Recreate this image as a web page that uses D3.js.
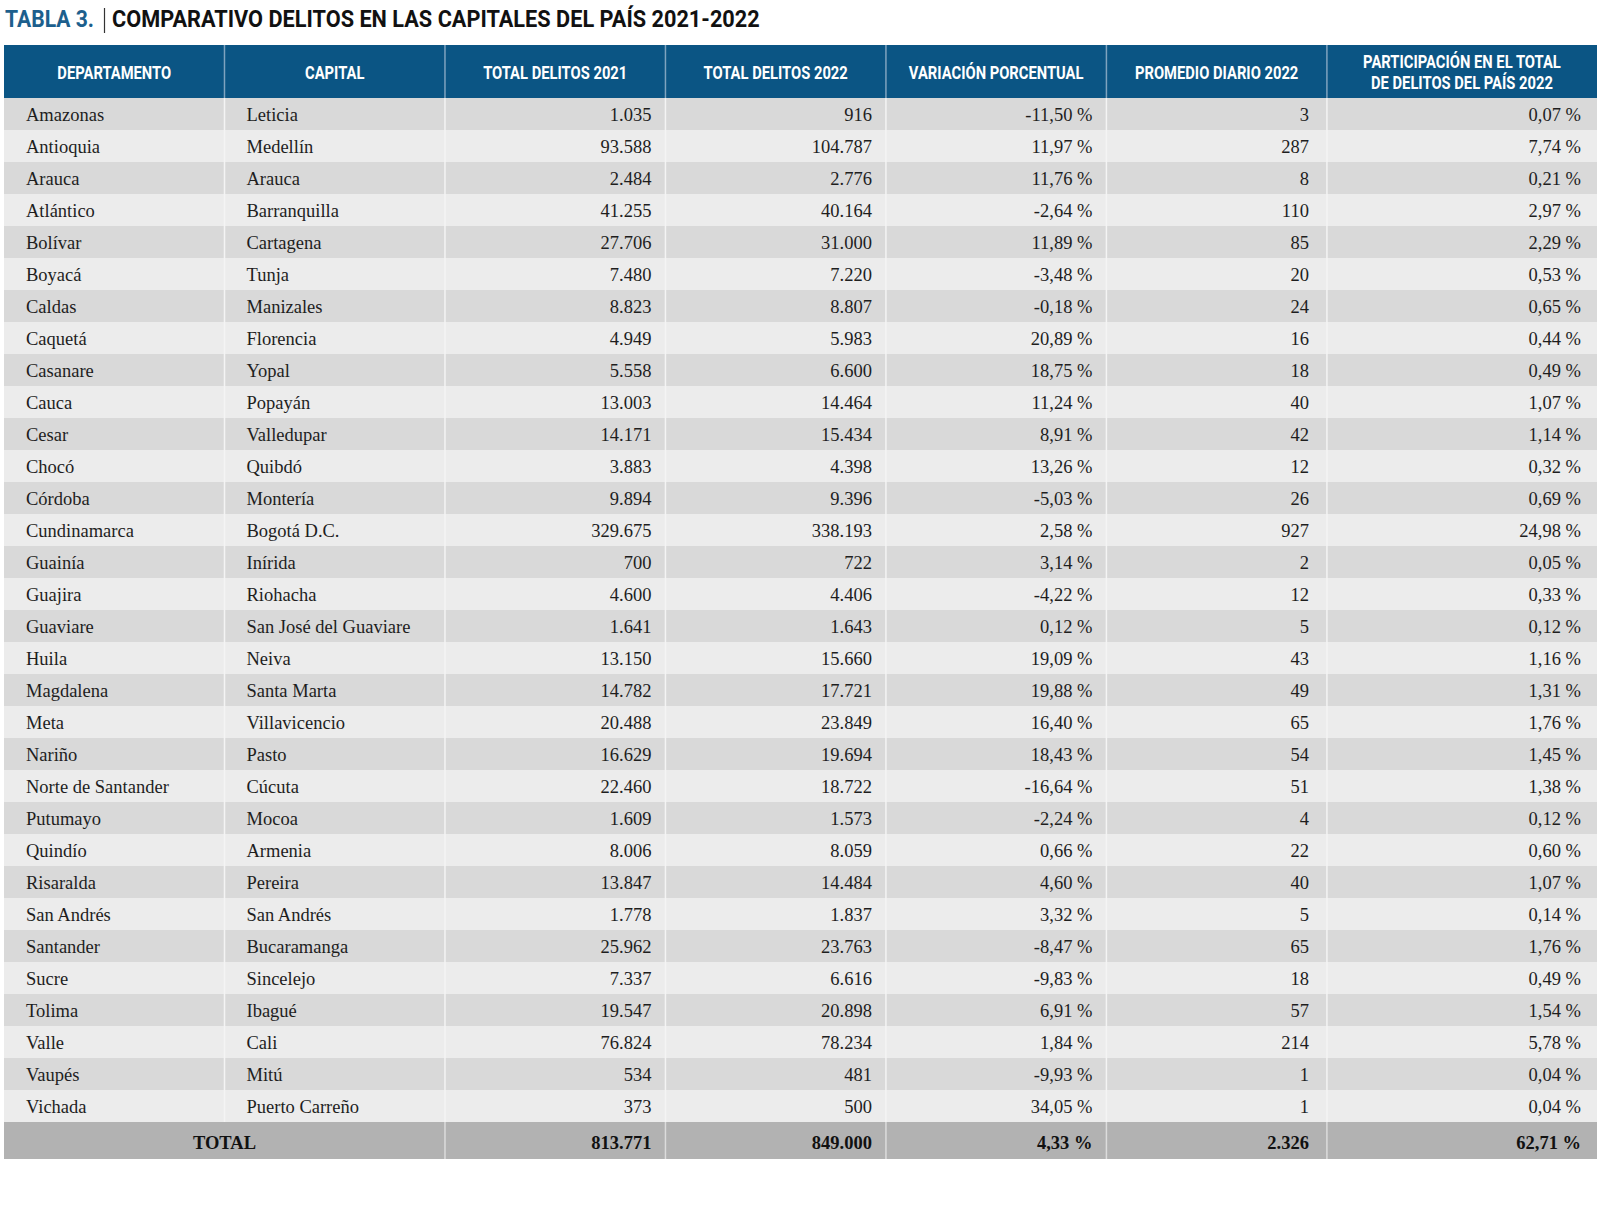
<!DOCTYPE html>
<html>
<head>
<meta charset="utf-8">
<script src="https://cdn.jsdelivr.net/npm/d3@7"></script>
<style>
  html, body { margin: 0; padding: 0; background: #ffffff; }
  svg { display: block; }
</style>
</head>
<body>
<svg id="chart" width="1600" height="1215"></svg>
<script>
// ---------------- DATA ----------------
const titleLabel = "TABLA 3.";
const titleText = "COMPARATIVO DELITOS EN LAS CAPITALES DEL PAÍS 2021-2022";
const headers = [
  ["DEPARTAMENTO"],
  ["CAPITAL"],
  ["TOTAL DELITOS 2021"],
  ["TOTAL DELITOS 2022"],
  ["VARIACIÓN PORCENTUAL"],
  ["PROMEDIO DIARIO 2022"],
  ["PARTICIPACIÓN EN EL TOTAL", "DE DELITOS DEL PAÍS 2022"]
];
const departamentos = ["Amazonas","Antioquia","Arauca","Atlántico","Bolívar","Boyacá","Caldas","Caquetá","Casanare","Cauca","Cesar","Chocó","Córdoba","Cundinamarca","Guainía","Guajira","Guaviare","Huila","Magdalena","Meta","Nariño","Norte de Santander","Putumayo","Quindío","Risaralda","San Andrés","Santander","Sucre","Tolima","Valle","Vaupés","Vichada"];
const capitales = ["Leticia","Medellín","Arauca","Barranquilla","Cartagena","Tunja","Manizales","Florencia","Yopal","Popayán","Valledupar","Quibdó","Montería","Bogotá D.C.","Inírida","Riohacha","San José del Guaviare","Neiva","Santa Marta","Villavicencio","Pasto","Cúcuta","Mocoa","Armenia","Pereira","San Andrés","Bucaramanga","Sincelejo","Ibagué","Cali","Mitú","Puerto Carreño"];
const delitos2021 = [1035,93588,2484,41255,27706,7480,8823,4949,5558,13003,14171,3883,9894,329675,700,4600,1641,13150,14782,20488,16629,22460,1609,8006,13847,1778,25962,7337,19547,76824,534,373];
const delitos2022 = [916,104787,2776,40164,31000,7220,8807,5983,6600,14464,15434,4398,9396,338193,722,4406,1643,15660,17721,23849,19694,18722,1573,8059,14484,1837,23763,6616,20898,78234,481,500];
const variacion = [-11.50,11.97,11.76,-2.64,11.89,-3.48,-0.18,20.89,18.75,11.24,8.91,13.26,-5.03,2.58,3.14,-4.22,0.12,19.09,19.88,16.40,18.43,-16.64,-2.24,0.66,4.60,3.32,-8.47,-9.83,6.91,1.84,-9.93,34.05];
const promedioDiario = [3,287,8,110,85,20,24,16,18,40,42,12,26,927,2,12,5,43,49,65,54,51,4,22,40,5,65,18,57,214,1,1];
const participacion = [0.07,7.74,0.21,2.97,2.29,0.53,0.65,0.44,0.49,1.07,1.14,0.32,0.69,24.98,0.05,0.33,0.12,1.16,1.31,1.76,1.45,1.38,0.12,0.60,1.07,0.14,1.76,0.49,1.54,5.78,0.04,0.04];
const totalLabel = "TOTAL";
const totals = { d2021: 813771, d2022: 849000, variacion: 4.33, promedio: 2326, participacion: 62.71 };

// ---------------- LAYOUT ----------------
const locale = d3.formatLocale({ decimal: ",", thousands: ".", grouping: [3], currency: ["$", ""], minus: "-" });
const fmtInt = locale.format(",d");
const fmtPct = v => locale.format(",.2f")(v) + " %";

const colWeights = [1, 1, 1, 1, 1, 1, 1.225];
const cum = [0];
colWeights.forEach(w => cum.push(cum[cum.length - 1] + w));
const x = d3.scaleLinear().domain([0, cum[cum.length - 1]]).range([4, 1597]);
const colX0 = i => x(cum[i]);
const colX1 = i => x(cum[i + 1]);

const nRows = departamentos.length;
const headerTop = 45, headerBottom = 98;
const y = d3.scaleBand().domain(d3.range(nRows)).range([headerBottom, headerBottom + 32 * nRows]).paddingInner(0);
const totalTop = headerBottom + 32 * nRows, totalBottom = totalTop + 37;

const svg = d3.select("#chart");
const SANS = "Roboto, 'Liberation Sans', sans-serif";
const SERIF = "'Liberation Serif', 'DejaVu Serif', serif";

function condense(sel, factor) {
  sel.each(function () {
    const t = d3.select(this);
    const ax = +t.attr("x"), ay = +t.attr("y");
    t.attr("transform", `translate(${ax},${ay}) scale(${factor},1) translate(${-ax},${-ay})`);
  });
}

// ---------------- TITLE ----------------
const tA = svg.append("text").attr("x", 5).attr("y", 27)
  .attr("font-family", SANS).attr("font-weight", 700).attr("font-size", 23)
  .attr("fill", "#1d5f8d").text(titleLabel);
const wA = tA.node().getComputedTextLength();
condense(tA, 89 / wA);
svg.append("line").attr("x1", 104.5).attr("x2", 104.5).attr("y1", 8).attr("y2", 33)
  .attr("stroke", "#333").attr("stroke-width", 1.2);
const tB = svg.append("text").attr("x", 112).attr("y", 27)
  .attr("font-family", SANS).attr("font-weight", 700).attr("font-size", 23)
  .attr("fill", "#111").text(titleText);
const wB = tB.node().getComputedTextLength();
condense(tB, 648 / wB);

// ---------------- HEADER ----------------
svg.append("rect").attr("x", x.range()[0]).attr("y", headerTop)
  .attr("width", x.range()[1] - x.range()[0]).attr("height", headerBottom - headerTop)
  .attr("fill", "#0b5584");

const HFS = 18;
const probe = svg.append("text").attr("font-family", SANS).attr("font-weight", 700)
  .attr("font-size", HFS).text(headers[0][0]);
const hFactor = 114 / probe.node().getComputedTextLength();
probe.remove();

const hMid = (headerTop + headerBottom) / 2;
headers.forEach((lines, i) => {
  const cx = (colX0(i) + colX1(i)) / 2;
  lines.forEach((ln, k) => {
    const by = lines.length === 1 ? hMid + 7.5 : hMid - 3 + k * 21;
    const t = svg.append("text").attr("x", cx).attr("y", by)
      .attr("text-anchor", "middle").attr("font-family", SANS).attr("font-weight", 700)
      .attr("font-size", HFS).attr("fill", "#ffffff").text(ln);
    condense(t, hFactor);
  });
});

// ---------------- BODY ----------------
const rowsG = svg.append("g");
rowsG.selectAll("rect.row").data(d3.range(nRows)).join("rect")
  .attr("class", "row")
  .attr("x", x.range()[0]).attr("y", i => y(i))
  .attr("width", x.range()[1] - x.range()[0]).attr("height", y.bandwidth())
  .attr("fill", i => i % 2 === 0 ? "#d9d9d9" : "#ececec");

svg.append("rect").attr("x", x.range()[0]).attr("y", totalTop)
  .attr("width", x.range()[1] - x.range()[0]).attr("height", totalBottom - totalTop)
  .attr("fill", "#b2b2b2");

const seps = d3.range(1, colWeights.length);
svg.append("g").selectAll("line").data(seps).join("line")
  .attr("x1", i => colX0(i)).attr("x2", i => colX0(i))
  .attr("y1", headerTop).attr("y2", headerBottom)
  .attr("stroke", "#7fa3bf").attr("stroke-width", 1.5);
svg.append("g").selectAll("line").data(seps).join("line")
  .attr("x1", i => colX0(i)).attr("x2", i => colX0(i))
  .attr("y1", headerBottom).attr("y2", totalTop)
  .attr("stroke", "#f4f4f4").attr("stroke-width", 1.5);
svg.append("g").selectAll("line").data(seps.filter(i => i !== 1)).join("line")
  .attr("x1", i => colX0(i)).attr("x2", i => colX0(i))
  .attr("y1", totalTop).attr("y2", totalBottom)
  .attr("stroke", "#dcdcdc").attr("stroke-width", 1.5);

const PADL = 22;
const padR = [0, 0, 14, 14, 14, 18, 16];
const columns = [
  { vals: departamentos, align: "start" },
  { vals: capitales, align: "start" },
  { vals: delitos2021.map(fmtInt), align: "end" },
  { vals: delitos2022.map(fmtInt), align: "end" },
  { vals: variacion.map(fmtPct), align: "end" },
  { vals: promedioDiario.map(fmtInt), align: "end" },
  { vals: participacion.map(fmtPct), align: "end" }
];
columns.forEach((c, ci) => {
  svg.append("g").selectAll("text").data(c.vals).join("text")
    .attr("x", c.align === "start" ? colX0(ci) + PADL : colX1(ci) - padR[ci])
    .attr("y", (d, i) => y(i) + y.bandwidth() / 2 + 7)
    .attr("text-anchor", c.align)
    .attr("font-family", SERIF).attr("font-size", 18.5).attr("fill", "#1e1e1e")
    .text(d => d);
});

const tMid = (totalTop + totalBottom) / 2 + 8.5;
svg.append("text").attr("x", (colX0(0) + colX1(1)) / 2).attr("y", tMid)
  .attr("text-anchor", "middle").attr("font-family", SERIF).attr("font-weight", 700)
  .attr("font-size", 18.5).attr("fill", "#111").text(totalLabel);
const totVals = [fmtInt(totals.d2021), fmtInt(totals.d2022), fmtPct(totals.variacion), fmtInt(totals.promedio), fmtPct(totals.participacion)];
svg.append("g").selectAll("text").data(totVals).join("text")
  .attr("x", (d, i) => colX1(i + 2) - padR[i + 2])
  .attr("y", tMid).attr("text-anchor", "end")
  .attr("font-family", SERIF).attr("font-weight", 700).attr("font-size", 18.5).attr("fill", "#111")
  .text(d => d);
</script>
</body>
</html>
